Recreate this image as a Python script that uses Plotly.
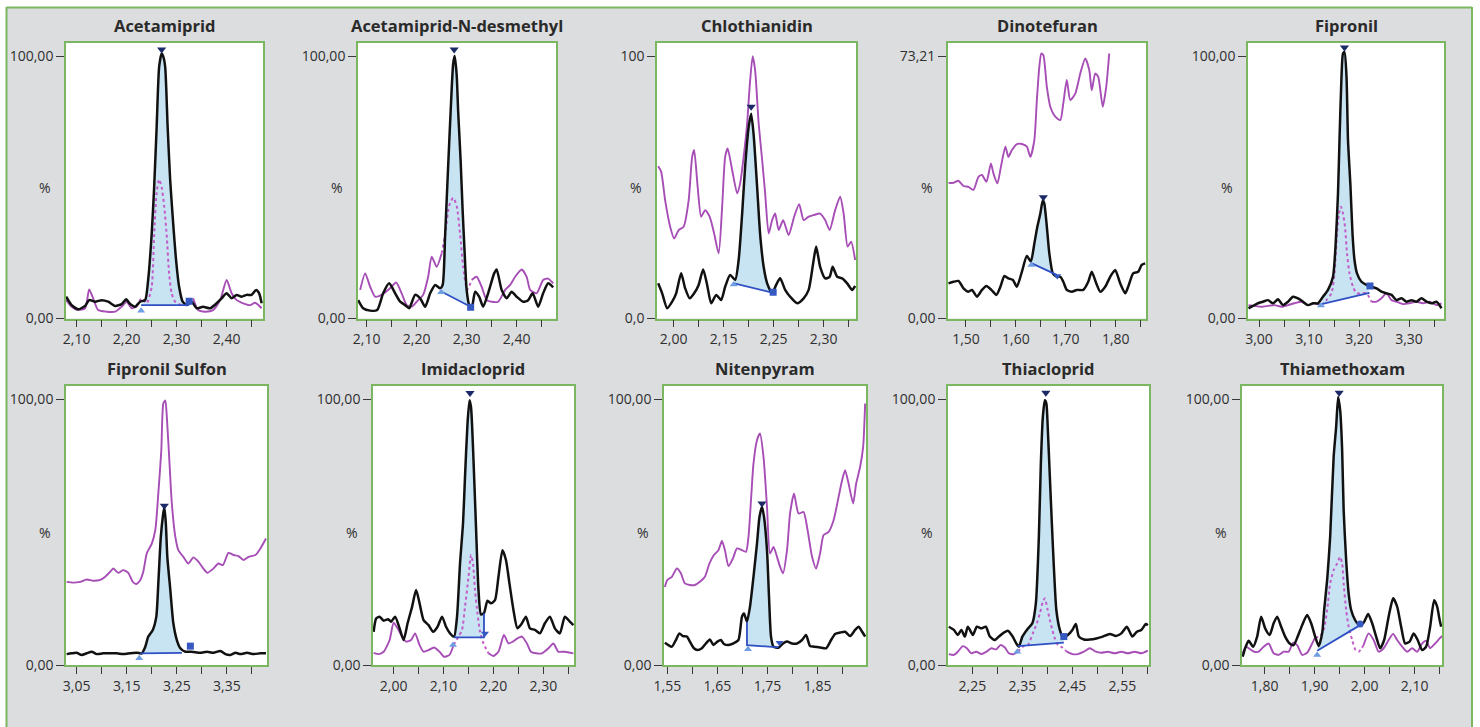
import plotly.graph_objects as go

FIG_W, FIG_H = 1480, 727

names = ["Acetamiprid", "Acetamiprid-N-desmethyl", "Chlothianidin", "Dinotefuran", "Fipronil",
         "Fipronil Sulfon", "Imidacloprid", "Nitenpyram", "Thiacloprid", "Thiamethoxam"]

# ---------------- Acetamiprid ----------------
acet_rt = [2.079, 2.090, 2.103, 2.117, 2.125, 2.137, 2.150, 2.163, 2.177, 2.190, 2.199, 2.207, 2.217, 2.227, 2.237,
           2.243, 2.250, 2.255, 2.260, 2.265, 2.270, 2.273, 2.277, 2.282, 2.287, 2.292, 2.299, 2.305, 2.312, 2.320,
           2.330, 2.340, 2.353, 2.367, 2.380, 2.390, 2.400, 2.410, 2.420, 2.430, 2.440, 2.450, 2.459, 2.465, 2.470]
acet_quant = [8.3, 5.1, 3.5, 4.8, 7.0, 6.4, 7.0, 6.4, 4.8, 5.5, 7.3, 5.5, 4.5, 6.4, 7.0, 14.7, 32, 50, 73, 96,
              101, 100, 96, 73, 53, 39, 22, 12, 6.4, 5.1, 6.4, 3.9, 4.5, 3.9, 5.8, 7.7, 9.6, 7.7, 9.0, 8.3,
              9.0, 9.0, 10.9, 9.6, 5.8]
acet_qual_rt = [2.079, 2.090, 2.103, 2.117, 2.125, 2.133, 2.143, 2.160, 2.177, 2.190, 2.200, 2.210, 2.220, 2.230,
                2.240, 2.250, 2.255, 2.260, 2.265, 2.270, 2.275, 2.280, 2.285, 2.290, 2.297, 2.310, 2.323, 2.333,
                2.343, 2.357, 2.373, 2.387, 2.400, 2.410, 2.420, 2.433, 2.447, 2.457, 2.470]
acet_qual = [7.0, 4.5, 3.2, 3.9, 11.1, 7.7, 3.2, 2.6, 2.6, 4.5, 6.4, 3.9, 4.5, 7.7, 5.8, 12, 32, 48, 53, 50,
             43, 32, 17, 9.6, 6.4, 5.1, 5.8, 7.7, 3.2, 2.6, 3.2, 7.0, 14.7, 9.6, 7.0, 5.8, 5.1, 6.0, 3.9]

# ---------------- Acetamiprid-N-desmethyl ----------------
acnd_rt = [2.083, 2.093, 2.107, 2.121, 2.133, 2.145, 2.157, 2.167, 2.177, 2.185, 2.197, 2.207, 2.217, 2.227, 2.237,
           2.247, 2.252, 2.257, 2.263, 2.268, 2.273, 2.276, 2.280, 2.283, 2.288, 2.292, 2.296, 2.300, 2.305, 2.310,
           2.317, 2.325, 2.333, 2.343, 2.355, 2.360, 2.370, 2.380, 2.390, 2.400, 2.413, 2.423, 2.432, 2.443, 2.453,
           2.463, 2.473]
acnd_quant = [7.0, 3.9, 3.0, 3.2, 9.6, 13.4, 9.6, 6.4, 5.1, 3.9, 9.0, 7.7, 4.5, 9.6, 12.8, 11.5, 12.8, 32, 58, 79,
              97, 100, 93, 79, 60, 41, 25, 10.9, 5.1, 3.9, 10.2, 8.3, 4.5, 9.6, 17.2, 18.7, 10.9, 7.7, 10.2, 8.3,
              6.4, 7.0, 9.6, 4.5, 9.6, 13.4, 11.9]
acnd_qual_rt = [2.087, 2.097, 2.107, 2.117, 2.130, 2.147, 2.159, 2.170, 2.180, 2.190, 2.200, 2.213, 2.223, 2.230,
                2.240, 2.250, 2.257, 2.265, 2.273, 2.280, 2.287, 2.293, 2.301, 2.310, 2.320, 2.330, 2.340, 2.350,
                2.363, 2.377, 2.387, 2.397, 2.410, 2.420, 2.427, 2.440, 2.453, 2.463, 2.473]
acnd_qual = [10.9, 17.2, 12.1, 8.3, 9.0, 11.5, 13.7, 9.6, 5.1, 4.5, 6.4, 9.0, 15.9, 23.6, 19.7, 24.8, 32, 43, 46, 43,
             32, 19.7, 10.9, 14.7, 15.9, 12.1, 7.0, 6.4, 6.4, 10.9, 12.8, 15.9, 18.7, 15.9, 10.9, 9.6, 14.7, 15.2, 13.4]

# ---------------- Chlothianidin ----------------
clot_rt = [2.019, 2.027, 2.037, 2.047, 2.055, 2.065, 2.073, 2.082, 2.091, 2.100, 2.109, 2.117, 2.125, 2.135, 2.145,
           2.153, 2.163, 2.173, 2.180, 2.187, 2.193, 2.200, 2.205, 2.210, 2.217, 2.223, 2.230, 2.237, 2.247, 2.255,
           2.263, 2.273, 2.283, 2.297, 2.310, 2.320, 2.329, 2.335, 2.343, 2.353, 2.362, 2.368, 2.377, 2.387, 2.397,
           2.407, 2.413]
clot_quant = [13.4, 9.6, 3.9, 6.4, 9.6, 17.2, 11.5, 7.7, 9.6, 12.8, 18.7, 12.8, 5.8, 9.0, 7.0, 12.1, 16.6, 14.7,
              22.3, 40, 58, 73, 78, 70, 50, 32, 19.7, 13.4, 9.6, 12.8, 15.3, 10.9, 8.3, 5.8, 7.7, 10.9, 21, 27.4,
              19.7, 15.3, 15.9, 19.7, 15.9, 15.3, 13.4, 10.9, 12.4]
clot_qual_rt = [2.019, 2.025, 2.033, 2.043, 2.051, 2.060, 2.070, 2.080, 2.087, 2.091, 2.098, 2.105, 2.113, 2.122,
                2.131, 2.140, 2.147, 2.153, 2.158, 2.167, 2.177, 2.183, 2.190, 2.197, 2.202, 2.208, 2.213, 2.220,
                2.227, 2.233, 2.240, 2.247, 2.253, 2.260, 2.269, 2.280, 2.291, 2.301, 2.310, 2.320, 2.330, 2.343,
                2.353, 2.362, 2.373, 2.383, 2.390, 2.398, 2.405, 2.413]
clot_qual = [58, 56, 45, 35, 30.5, 33.7, 35, 45, 61.6, 64.2, 50.2, 38.8, 41.3, 38.8, 32.4, 24.8, 42.6, 61.6, 64.8,
             56.6, 47.7, 51.5, 61.6, 74.4, 88.3, 100, 94.6, 74.4, 60.4, 47.7, 32.4, 37.5, 40, 33.7, 37.5, 31.8,
             38.8, 43.6, 37.5, 38.8, 39.4, 40, 37.5, 33.7, 41.3, 46.4, 40, 27.4, 29.3, 22.3]

# ---------------- Dinotefuran ----------------
dino_rt = [1.465, 1.475, 1.485, 1.495, 1.505, 1.512, 1.522, 1.532, 1.541, 1.551, 1.561, 1.569, 1.577, 1.585, 1.594,
           1.602, 1.612, 1.622, 1.630, 1.637, 1.643, 1.649, 1.654, 1.657, 1.662, 1.667, 1.674, 1.682, 1.689, 1.695,
           1.702, 1.712, 1.722, 1.735, 1.745, 1.752, 1.761, 1.769, 1.779, 1.789, 1.799, 1.809, 1.819, 1.825, 1.835,
           1.845, 1.852, 1.859]
dino_quant = [13.4, 14, 14.3, 11.5, 10.2, 10.9, 8.3, 10.9, 12.4, 10.9, 9.0, 12.1, 16.2, 15.3, 14.7, 12.1, 17.8, 23.8,
              21.7, 28.6, 35, 40, 45.1, 43.8, 35, 24.8, 17.2, 15.9, 15.9, 14, 10.9, 10.2, 10.9, 10.9, 14, 17.8, 13.4,
              10.2, 12.1, 15.9, 18.5, 13.4, 9.6, 12.1, 17.2, 17.8, 20.4, 21]
dino_qual_rt = [1.465, 1.475, 1.485, 1.495, 1.505, 1.515, 1.525, 1.532, 1.541, 1.550, 1.555, 1.563, 1.570, 1.579,
                1.585, 1.592, 1.602, 1.612, 1.622, 1.629, 1.637, 1.642, 1.647, 1.651, 1.655, 1.662, 1.669, 1.679,
                1.689, 1.695, 1.702, 1.709, 1.719, 1.729, 1.739, 1.747, 1.752, 1.759, 1.765, 1.774, 1.781, 1.787]
dino_qual = [51.7, 51.7, 52.5, 50.5, 50.2, 49, 54, 54.7, 52.1, 59.1, 55.3, 51.5, 57.8, 65.5, 61.6, 64.2, 66.5, 66.5,
             65.5, 61.6, 68, 83.2, 96, 101, 100.4, 88.3, 80.7, 76.9, 75.6, 82, 90.9, 83.2, 85.7, 93.4, 99.1, 94.7,
             87, 93.4, 92.1, 80.7, 88.3, 101]

# ---------------- Fipronil ----------------
fipr_rt = [2.979, 2.988, 2.998, 3.008, 3.018, 3.028, 3.038, 3.048, 3.058, 3.068, 3.078, 3.088, 3.098, 3.108, 3.118,
           3.128, 3.138, 3.148, 3.153, 3.158, 3.161, 3.165, 3.168, 3.171, 3.175, 3.178, 3.183, 3.187, 3.191, 3.196,
           3.205, 3.215, 3.225, 3.235, 3.245, 3.255, 3.265, 3.275, 3.285, 3.295, 3.305, 3.315, 3.325, 3.335, 3.345,
           3.355, 3.365]
fipr_quant = [3.9, 4.8, 5.8, 6.4, 7.0, 5.8, 7.3, 5.1, 6.4, 8.3, 7.7, 6.4, 5.1, 5.8, 5.8, 8.3, 10.9, 15.9, 27.4, 47.7,
              68, 92.2, 101, 101.5, 92.2, 68, 50.2, 32.4, 22.3, 17.2, 14, 12.8, 12.1, 11.5, 10.2, 9.6, 9.0, 7.0, 7.7,
              6.4, 7.0, 6.4, 7.7, 6.4, 5.8, 6.4, 3.9]
fipr_qual_rt = [2.979, 2.991, 3.005, 3.018, 3.031, 3.045, 3.058, 3.071, 3.085, 3.098, 3.111, 3.125, 3.135, 3.145,
                3.151, 3.156, 3.160, 3.164, 3.168, 3.172, 3.176, 3.181, 3.188, 3.195, 3.205, 3.215, 3.225, 3.235,
                3.245, 3.255, 3.265, 3.275, 3.288, 3.301, 3.315, 3.328, 3.341, 3.355, 3.365]
fipr_qual = [5.1, 4.8, 4.5, 4.8, 5.1, 4.5, 5.1, 5.8, 6.4, 5.1, 5.8, 5.1, 7.0, 9.6, 17.2, 32.4, 40, 42.6, 40, 35,
             24.8, 17.2, 12.1, 9.6, 9.6, 9.6, 6.4, 6.4, 7.7, 9.6, 7.0, 6.4, 5.5, 5.8, 6.4, 5.8, 6.4, 5.1, 5.8]

# ---------------- Fipronil Sulfon ----------------
fsul_rt = [3.030, 3.040, 3.050, 3.060, 3.070, 3.080, 3.090, 3.103, 3.117, 3.130, 3.143, 3.157, 3.170, 3.180, 3.187,
           3.193, 3.202, 3.209, 3.213, 3.218, 3.222, 3.225, 3.228, 3.231, 3.237, 3.243, 3.250, 3.257, 3.267, 3.280,
           3.297, 3.310, 3.323, 3.337, 3.347, 3.357, 3.367, 3.377, 3.390, 3.403, 3.417, 3.428]
fsul_quant = [4.1, 4.4, 4.6, 3.8, 4.4, 5.0, 4.1, 4.4, 4.4, 4.4, 4.1, 4.4, 4.6, 4.4, 6.9, 10.7, 13.2, 18.2, 30.7, 48.2,
              55.8, 59.5, 53.3, 40.7, 28.2, 15.7, 9.4, 6.3, 5.0, 5.0, 4.6, 5.0, 4.6, 5.3, 4.1, 3.8, 4.6, 4.1, 4.6,
              4.1, 4.4, 4.4]
fsul_qual_rt = [3.030, 3.043, 3.057, 3.070, 3.083, 3.097, 3.107, 3.117, 3.123, 3.133, 3.143, 3.153, 3.162, 3.169,
                3.177, 3.183, 3.190, 3.200, 3.207, 3.213, 3.219, 3.223, 3.227, 3.230, 3.235, 3.240, 3.247, 3.253,
                3.263, 3.273, 3.283, 3.293, 3.303, 3.311, 3.323, 3.333, 3.342, 3.353, 3.363, 3.373, 3.383, 3.393,
                3.407, 3.417, 3.428]
fsul_qual = [31.3, 31, 31.3, 32.2, 31.7, 32, 33.2, 35.1, 36.3, 34.7, 35.7, 34.7, 31.3, 30.5, 32, 35.1, 42, 45.7, 50.8,
             64.5, 80.8, 98.4, 99.6, 93.4, 77.1, 60.8, 48.2, 43.2, 40.7, 38.2, 40.5, 38.9, 36.3, 34.7, 36.3, 38.2,
             37.6, 42.2, 41.4, 41, 39.5, 40.7, 41.4, 43.9, 47.6]

# ---------------- Imidacloprid ----------------
imid_rt = [1.960, 1.965, 1.972, 1.980, 1.989, 1.995, 2.003, 2.012, 2.020, 2.028, 2.037, 2.045, 2.052, 2.060, 2.070,
           2.079, 2.088, 2.097, 2.105, 2.113, 2.121, 2.127, 2.133, 2.139, 2.143, 2.148, 2.152, 2.155, 2.160, 2.165,
           2.170, 2.175, 2.181, 2.188, 2.195, 2.203, 2.210, 2.218, 2.225, 2.232, 2.240, 2.248, 2.257, 2.265, 2.273,
           2.283, 2.293, 2.303, 2.313, 2.323, 2.333, 2.343, 2.353, 2.360]
imid_quant = [12.5, 17.5, 18.2, 16.7, 17.2, 16.3, 18.2, 13.8, 9.4, 15.7, 21.9, 28.2, 23.2, 16.9, 15, 12.5, 14.4, 18.2,
              14.4, 11.9, 10.7, 18.2, 38.2, 53.3, 70.8, 90.9, 99.6, 97.1, 77.1, 52, 28.2, 19.0, 19.5, 24.2, 23.2,
              24.4, 33.2, 43.2, 39.5, 30.7, 20.7, 13.8, 15.7, 18.2, 13.8, 13.2, 11.9, 15.7, 18.2, 13.8, 11.9, 18.2,
              16.3, 15]
imid_qual_rt = [1.960, 1.970, 1.980, 1.992, 2.000, 2.008, 2.017, 2.025, 2.035, 2.043, 2.052, 2.060, 2.070, 2.081,
                2.092, 2.101, 2.112, 2.120, 2.130, 2.137, 2.143, 2.150, 2.155, 2.159, 2.163, 2.168, 2.173, 2.180,
                2.190, 2.200, 2.210, 2.221, 2.230, 2.239, 2.248, 2.257, 2.267, 2.275, 2.285, 2.297, 2.310, 2.320,
                2.330, 2.343, 2.360]
imid_qual = [4.6, 4.1, 5.0, 9.4, 15.9, 13.8, 10.7, 8.8, 9.4, 11.9, 7.5, 5.0, 5.6, 6.6, 5.0, 3.1, 3.8, 7.5, 10.7, 13.2,
             21.9, 33.2, 41.4, 38.2, 28.2, 19.4, 12.5, 8.1, 4.4, 3.4, 5.0, 11.3, 8.1, 8.8, 10.0, 10.7, 8.1, 5.0, 4.4,
             4.4, 6.3, 8.1, 5.0, 5.0, 4.4]

# ---------------- Nitenpyram ----------------
nite_rt = [1.545, 1.552, 1.559, 1.567, 1.574, 1.581, 1.589, 1.595, 1.603, 1.610, 1.619, 1.627, 1.635, 1.642, 1.650,
           1.657, 1.663, 1.672, 1.682, 1.692, 1.699, 1.703, 1.709, 1.715, 1.722, 1.729, 1.734, 1.739, 1.743, 1.749,
           1.753, 1.757, 1.762, 1.772, 1.781, 1.789, 1.799, 1.809, 1.819, 1.827, 1.835, 1.843, 1.855, 1.867, 1.877,
           1.885, 1.895, 1.905, 1.915, 1.925, 1.932, 1.939, 1.945]
nite_quant = [8.4, 7.5, 6.9, 9.4, 11.9, 10.9, 10.7, 8.8, 6.3, 5.6, 6.3, 8.1, 9.6, 7.5, 8.8, 9.4, 7.9, 7.5, 8.1, 9.4,
              18.2, 19.4, 16.3, 21.9, 33.2, 45.7, 55.8, 59.5, 55.8, 43.2, 25.7, 10.7, 6.9, 6.5, 8.1, 8.8, 8.1, 8.1,
              9.4, 11.3, 7.1, 6.9, 6.6, 6.3, 9.4, 11.7, 12.2, 12.5, 10.9, 13.2, 14.4, 12.5, 10.7]
nite_qual_rt = [1.545, 1.550, 1.559, 1.569, 1.577, 1.585, 1.595, 1.605, 1.615, 1.625, 1.634, 1.643, 1.652, 1.659,
                1.665, 1.672, 1.681, 1.689, 1.699, 1.707, 1.712, 1.717, 1.722, 1.729, 1.735, 1.742, 1.749, 1.755,
                1.762, 1.769, 1.775, 1.781, 1.789, 1.795, 1.803, 1.812, 1.822, 1.830, 1.839, 1.847, 1.855, 1.862,
                1.872, 1.882, 1.892, 1.899, 1.905, 1.912, 1.921, 1.927, 1.935, 1.941, 1.945]
nite_qual = [29.4, 32, 33.2, 36.3, 34.5, 30.7, 30.1, 30.1, 31.3, 33.2, 38.2, 41.4, 43.2, 46.7, 43.2, 37.2, 40.1, 43.9,
             43.2, 42.6, 48.2, 62, 75.8, 84.6, 87.1, 78.3, 59.5, 42, 44.4, 40.7, 37, 34.5, 43.2, 57, 64.5, 57, 57.6,
             50.8, 40.7, 36.3, 42, 48.9, 50.1, 54.5, 63.3, 69.5, 73.3, 68.2, 60.8, 68.2, 74.6, 82.1, 98.4]

# ---------------- Thiacloprid ----------------
thcl_rt = [2.203, 2.213, 2.221, 2.228, 2.235, 2.241, 2.251, 2.259, 2.268, 2.277, 2.285, 2.295, 2.303, 2.313, 2.321,
           2.330, 2.338, 2.343, 2.350, 2.359, 2.370, 2.377, 2.383, 2.387, 2.391, 2.395, 2.398, 2.401, 2.405, 2.409,
           2.413, 2.418, 2.425, 2.431, 2.441, 2.450, 2.457, 2.463, 2.473, 2.485, 2.498, 2.511, 2.525, 2.537, 2.548,
           2.559, 2.570, 2.579, 2.588, 2.597, 2.601]
thcl_quant = [14.4, 13.2, 11.3, 13.2, 10.7, 14.4, 11.3, 14.4, 13.8, 14.4, 10.7, 9.4, 10.7, 12.2, 12.9, 10.9, 8.1, 6.9,
              10.7, 13.2, 15.7, 23.2, 48.2, 75.8, 93.4, 99.6, 98.4, 88.4, 70.8, 53.3, 37, 20.7, 13.2, 10.4, 11.3,
              13.2, 15.4, 10.7, 9.6, 9.6, 10.0, 10.7, 11.7, 10.9, 11.9, 14.4, 10.7, 12.5, 13.2, 15.4, 15]
thcl_qual_rt = [2.203, 2.213, 2.221, 2.231, 2.239, 2.248, 2.258, 2.268, 2.278, 2.288, 2.298, 2.306, 2.315, 2.323,
                2.333, 2.341, 2.351, 2.361, 2.371, 2.379, 2.385, 2.391, 2.395, 2.400, 2.405, 2.410, 2.415, 2.421,
                2.430, 2.439, 2.450, 2.461, 2.473, 2.485, 2.497, 2.508, 2.521, 2.535, 2.548, 2.561, 2.575, 2.588, 2.601]
thcl_qual = [4.1, 3.8, 5.0, 7.1, 6.3, 4.4, 5.0, 4.1, 5.0, 6.3, 5.9, 7.5, 6.6, 4.4, 4.1, 5.0, 6.9, 7.5, 11.9, 15.7,
             19.4, 23.8, 25.1, 21.3, 16.9, 13.2, 10, 7.5, 6.6, 5.0, 4.1, 4.1, 5.0, 6.3, 5.0, 4.6, 5.0, 4.4, 5.0, 4.4,
             5.0, 4.4, 5.4]

# ---------------- Thiamethoxam ----------------
thmx_rt = [1.756, 1.761, 1.768, 1.777, 1.785, 1.793, 1.801, 1.810, 1.818, 1.825, 1.833, 1.841, 1.850, 1.858, 1.866,
           1.875, 1.885, 1.893, 1.901, 1.908, 1.915, 1.919, 1.925, 1.931, 1.938, 1.943, 1.947, 1.951, 1.955, 1.958,
           1.963, 1.968, 1.973, 1.981, 1.990, 1.998, 2.007, 2.015, 2.023, 2.031, 2.039, 2.048, 2.057, 2.065, 2.073,
           2.081, 2.090, 2.098, 2.106, 2.115, 2.123, 2.131, 2.139, 2.145, 2.150, 2.153]
thmx_quant = [3.1, 6.3, 9.1, 6.9, 10.7, 18.2, 13.8, 11.3, 15.7, 18.2, 14.4, 10.7, 8.1, 7.5, 10.7, 15, 18.8, 15.7,
              10.7, 7.1, 11.9, 20.7, 32, 48.2, 78.3, 89.6, 100.9, 95.9, 80.8, 58.3, 39.5, 26.9, 20.7, 16.9, 15, 15.9,
              19.2, 15.7, 10.7, 6.3, 9.4, 18.2, 25.1, 22, 14.4, 8.1, 8.8, 11.9, 9.4, 5.6, 6.9, 14.4, 24.4, 22, 16.9,
              14.4]
thmx_qual_rt = [1.756, 1.763, 1.771, 1.779, 1.788, 1.798, 1.808, 1.818, 1.828, 1.838, 1.848, 1.857, 1.865, 1.875,
                1.885, 1.895, 1.901, 1.910, 1.918, 1.925, 1.931, 1.938, 1.945, 1.951, 1.955, 1.958, 1.963, 1.968,
                1.975, 1.981, 1.988, 1.998, 2.008, 2.018, 2.028, 2.038, 2.048, 2.057, 2.065, 2.075, 2.085, 2.095,
                2.105, 2.115, 2.123, 2.131, 2.141, 2.150, 2.155]
thmx_qual = [4.4, 6.9, 5.9, 5.0, 5.0, 6.9, 8.1, 4.4, 3.8, 5.0, 5.0, 8.4, 7.5, 3.8, 4.6, 8.1, 10.4, 10.7, 13.2, 20.7,
             30.7, 35.7, 38.2, 40.7, 38.2, 30.7, 20.7, 14.4, 9.4, 5.9, 5.0, 7.5, 11.9, 9.4, 5.0, 6.3, 9.4, 11.7, 9.4,
             6.9, 5.0, 6.3, 5.0, 8.1, 9.1, 6.3, 8.1, 10.0, 10.9]

# Integration: (start_rt, end_rt, base_start, base_end, curve_start, curve_end)
integrations = [
    (2.229, 2.325, 5.1, 5.1, 5.1, 5.1),
    (2.250, 2.308, 10.2, 4.5, 10.2, 4.5),
    (2.171, 2.249, 13.4, 9.8, 13.4, 9.8),
    (1.632, 1.682, 21.0, 16.6, 21.0, 16.6),
    (3.125, 3.221, 5.5, 9.8, 5.5, 9.8),
    (3.177, 3.260, 4.4, 4.6, 4.4, 4.6),
    (2.121, 2.181, 10.4, 10.4, 10.4, 19.5),
    (1.709, 1.772, 7.5, 6.6, 16.3, 6.6),
    (2.341, 2.433, 7.1, 8.4, 7.1, 8.4),
    (1.905, 1.991, 5.4, 15.0, 5.4, 15.0),
]
start_markers = [(2.229, 3.0), (2.249, 10.0), (2.170, 13.0), (1.631, 20.4), (3.124, 5.0),
                 (3.175, 2.5), (2.119, 7.5), (1.711, 5.9), (2.340, 5.0), (1.905, 3.8)]
end_markers = [(2.325, 6.6), (2.308, 4.3), (2.249, 10.0), (1.683, 16.2), (3.222, 12.4),
               (3.277, 7.1), (2.183, 11.9), (1.774, 8.4), (2.433, 10.7), (1.991, 15.4)]
apex_markers = [(2.270, 102.5), (2.275, 102.5), (2.205, 80.7), (1.655, 46.2), (3.171, 103.3),
                (3.225, 59.9), (2.153, 102.4), (1.739, 60.8), (2.397, 102.5), (1.949, 102.5)]
qual_dotted = [True, True, False, False, True, False, True, False, True, True]
end_symbols = ["square", "square", "square", "triangle-down", "square",
               "square", "triangle-down", "triangle-down", "square", "circle"]

# Tick values / labels
xtick_vals = [
    [2.10, 2.15, 2.20, 2.25, 2.30, 2.35, 2.40, 2.45],
    [2.10, 2.15, 2.20, 2.25, 2.30, 2.35, 2.40, 2.45],
    [2.05, 2.10, 2.15, 2.20, 2.25, 2.30, 2.35, 2.40],
    [1.50, 1.55, 1.60, 1.65, 1.70, 1.75, 1.80, 1.85],
    [3.00, 3.05, 3.10, 3.15, 3.20, 3.25, 3.30, 3.35],
    [3.05, 3.10, 3.15, 3.20, 3.25, 3.30, 3.35, 3.40],
    [2.00, 2.05, 2.10, 2.15, 2.20, 2.25, 2.30, 2.35],
    [1.55, 1.60, 1.65, 1.70, 1.75, 1.80, 1.85, 1.90],
    [2.25, 2.30, 2.35, 2.40, 2.45, 2.50, 2.55, 2.60],
    [1.80, 1.85, 1.90, 1.95, 2.00, 2.05, 2.10, 2.15],
]
xtick_text = [
    ["2,10", "", "2,20", "", "2,30", "", "2,40", ""],
    ["2,10", "", "2,20", "", "2,30", "", "2,40", ""],
    ["2,00", "", "2,15", "", "2,25", "", "2,30", ""],
    ["1,50", "", "1,60", "", "1,70", "", "1,80", ""],
    ["3,00", "", "3,10", "", "3,20", "", "3,30", ""],
    ["3,05", "", "3,15", "", "3,25", "", "3,35", ""],
    ["2,00", "", "2,10", "", "2,20", "", "2,30", ""],
    ["1,55", "", "1,65", "", "1,75", "", "1,85", ""],
    ["2,25", "", "2,35", "", "2,45", "", "2,55", ""],
    ["1,80", "", "1,90", "", "2,00", "", "2,10", ""],
]
ytick_vals = [0, 100]
ytick_text = [
    ["0,00", "100,00"], ["0,00", "100,00"], ["0,0", "100"], ["0,00", "73,21"], ["0,00", "100,00"],
    ["0,00", "100,00"], ["0,00", "100,00"], ["0,00", "100,00"], ["0,00", "100,00"], ["0,00", "100,00"],
]

quant_x = [acet_rt, acnd_rt, clot_rt, dino_rt, fipr_rt, fsul_rt, imid_rt, nite_rt, thcl_rt, thmx_rt]
quant_y = [acet_quant, acnd_quant, clot_quant, dino_quant, fipr_quant, fsul_quant, imid_quant, nite_quant,
           thcl_quant, thmx_quant]
qual_x = [acet_qual_rt, acnd_qual_rt, clot_qual_rt, dino_qual_rt, fipr_qual_rt, fsul_qual_rt, imid_qual_rt,
          nite_qual_rt, thcl_qual_rt, thmx_qual_rt]
qual_y = [acet_qual, acnd_qual, clot_qual, dino_qual, fipr_qual, fsul_qual, imid_qual, nite_qual, thcl_qual,
          thmx_qual]

# ---------------- layout geometry (pixels) ----------------
boxes = [  # left, right, top, bottom
    (66, 263, 43, 318.5), (358, 556, 43, 318.5), (657, 856, 43, 318.5), (948, 1146, 43, 318.5),
    (1248, 1444, 43, 318.5),
    (66, 267, 386, 665), (373, 574, 386, 665), (664, 866, 386, 665), (948, 1149, 386, 665),
    (1242, 1442, 386, 665),
]
xranges = [
    (2.0787, 2.4727), (2.0827, 2.4787), (2.0167, 2.4147), (1.464, 1.8607), (2.978, 3.370),
    (3.0287, 3.430), (1.9587, 2.3613), (1.5433, 1.9467), (2.2013, 2.6033), (1.7547, 2.1547),
]

BG_GRAY = "#dcdddf"
GREEN = "#7bb661"
BLACK = "#111111"
MAGENTA = "#a64db6"
MAGENTA_DOT = "#c25cc9"
BLUE = "#2f4fc4"
FILL = "#c8e4f2"
TEXT = "#2f2f2f"
FONT = "Open Sans"

fig = go.Figure()
layout = {}
annotations = []

for i in range(10):
    n = "" if i == 0 else str(i + 1)
    xa, ya = "x" + n, "y" + n
    s, e, bs, be, cs, ce = integrations[i]
    qx, qy = quant_x[i], quant_y[i]

    # filled integrated area
    inner = [(x, y) for x, y in zip(qx, qy) if s < x < e]
    px = [s, s] + [p[0] for p in inner] + [e, e, s]
    py = [bs, cs] + [p[1] for p in inner] + [ce, be, bs]
    fig.add_trace(go.Scatter(x=px, y=py, xaxis=xa, yaxis=ya, mode="lines", fill="toself",
                             fillcolor=FILL, line=dict(width=0), hoverinfo="skip"))

    # qualifier trace
    mx, my = qual_x[i], qual_y[i]
    if qual_dotted[i]:
        ins = [k for k, x in enumerate(mx) if s < x < e]
        k0, k1 = max(ins[0] - 1, 0), min(ins[-1] + 1, len(mx) - 1)
        solid_y = [None if (s < x < e) else y for x, y in zip(mx, my)]
        fig.add_trace(go.Scatter(x=mx, y=solid_y, xaxis=xa, yaxis=ya, mode="lines",
                                 line=dict(color=MAGENTA, width=1.9, shape="spline", smoothing=0.6),
                                 connectgaps=False, hoverinfo="skip"))
        fig.add_trace(go.Scatter(x=mx[k0:k1 + 1], y=my[k0:k1 + 1], xaxis=xa, yaxis=ya, mode="lines",
                                 line=dict(color=MAGENTA_DOT, width=2, dash="dot", shape="spline", smoothing=0.6),
                                 hoverinfo="skip"))
    else:
        fig.add_trace(go.Scatter(x=mx, y=my, xaxis=xa, yaxis=ya, mode="lines",
                                 line=dict(color=MAGENTA, width=1.9, shape="spline", smoothing=0.6),
                                 hoverinfo="skip"))

    # quantifier trace
    fig.add_trace(go.Scatter(x=qx, y=qy, xaxis=xa, yaxis=ya, mode="lines",
                             line=dict(color=BLACK, width=2.5, shape="spline", smoothing=0.6),
                             hoverinfo="skip"))

    # baseline + drop lines
    fig.add_trace(go.Scatter(x=[s, s, e, e], y=[cs, bs, be, ce], xaxis=xa, yaxis=ya, mode="lines",
                             line=dict(color=BLUE, width=1.8), hoverinfo="skip"))

    # markers
    fig.add_trace(go.Scatter(x=[start_markers[i][0]], y=[start_markers[i][1]], xaxis=xa, yaxis=ya,
                             mode="markers", marker=dict(symbol="triangle-up", size=7, color="#6f9ee3"),
                             hoverinfo="skip"))
    fig.add_trace(go.Scatter(x=[end_markers[i][0]], y=[end_markers[i][1]], xaxis=xa, yaxis=ya,
                             mode="markers", marker=dict(symbol=end_symbols[i], size=7, color="#3559c0"),
                             hoverinfo="skip"))
    fig.add_trace(go.Scatter(x=[apex_markers[i][0]], y=[apex_markers[i][1]], xaxis=xa, yaxis=ya,
                             mode="markers", marker=dict(symbol="triangle-down", size=8, color="#1b2a66"),
                             hoverinfo="skip"))

    l, r, t, b = boxes[i]
    layout["xaxis" + n] = dict(
        domain=[l / FIG_W, r / FIG_W], range=list(xranges[i]), anchor=ya,
        tickvals=xtick_vals[i], ticktext=xtick_text[i], ticks="outside", ticklen=7, tickwidth=1,
        tickcolor="#3a3a3a", showline=True, mirror=True, linecolor=GREEN, linewidth=1.6,
        showgrid=False, zeroline=False, automargin=False,
        tickfont=dict(family=FONT, size=14, color=TEXT), fixedrange=True)
    layout["yaxis" + n] = dict(
        domain=[1 - b / FIG_H, 1 - t / FIG_H], range=[0, 105], anchor=xa,
        tickvals=ytick_vals, ticktext=ytick_text[i], ticks="outside", ticklen=8, tickwidth=1,
        tickcolor="#3a3a3a", showline=True, mirror=True, linecolor=GREEN, linewidth=1.6,
        showgrid=False, zeroline=False, automargin=False,
        tickfont=dict(family=FONT, size=14, color=TEXT), fixedrange=True)

    annotations.append(dict(text=names[i], xref=xa + " domain", yref=ya + " domain", x=0.5, y=1,
                            xanchor="center", yanchor="bottom", yshift=4, showarrow=False,
                            font=dict(family=FONT, size=16.5, color="#2a2a2a", weight="bold")))
    annotations.append(dict(text="%", xref=xa + " domain", yref=ya, x=0, y=50, xanchor="center",
                            yanchor="middle", xshift=-21, showarrow=False,
                            font=dict(family=FONT, size=14, color=TEXT)))

shapes = [
    dict(type="rect", xref="paper", yref="paper", x0=0, x1=6 / FIG_W, y0=0, y1=1,
         fillcolor="white", line=dict(width=0)),
    dict(type="rect", xref="paper", yref="paper", x0=0, x1=1, y0=1 - 7 / FIG_H, y1=1,
         fillcolor="white", line=dict(width=0)),
    dict(type="rect", xref="paper", yref="paper", x0=1472 / FIG_W, x1=1, y0=0, y1=1,
         fillcolor="white", line=dict(width=0)),
    dict(type="line", xref="paper", yref="paper", x0=6.5 / FIG_W, x1=6.5 / FIG_W, y0=-0.01, y1=1 - 7 / FIG_H,
         line=dict(color=GREEN, width=2)),
    dict(type="line", xref="paper", yref="paper", x0=6.5 / FIG_W, x1=1472 / FIG_W, y0=1 - 7.5 / FIG_H,
         y1=1 - 7.5 / FIG_H, line=dict(color=GREEN, width=2)),
    dict(type="line", xref="paper", yref="paper", x0=1472 / FIG_W, x1=1472 / FIG_W, y0=-0.01, y1=1 - 7 / FIG_H,
         line=dict(color=GREEN, width=2)),
]

fig.update_layout(
    width=FIG_W, height=FIG_H, autosize=False,
    margin=dict(l=0, r=0, t=0, b=0, pad=0, autoexpand=False),
    paper_bgcolor=BG_GRAY, plot_bgcolor="white",
    showlegend=False, annotations=annotations, shapes=shapes,
    font=dict(family=FONT, color=TEXT),
    **layout,
)

fig.write_html("out.html", config={"displayModeBar": False},
               post_script="document.body.style.margin='0px';document.body.style.padding='0px';")
